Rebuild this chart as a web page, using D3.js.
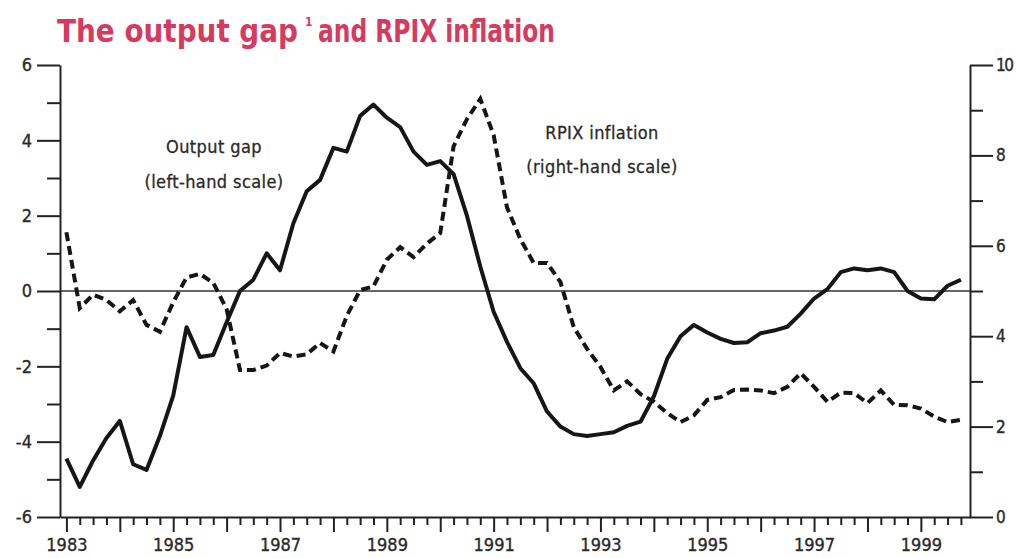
<!DOCTYPE html>
<html>
<head>
<meta charset="utf-8">
<script src="https://cdn.jsdelivr.net/npm/d3@7"></script>
<style>
  body { margin: 0; background: #fff; }
  svg { display: block; }
  .axis text { font-family: "DejaVu Sans Condensed", "DejaVu Sans", sans-serif; font-size: 18px; fill: #2a2a2a; stroke: #2a2a2a; stroke-width: 0.35px; }
  .axis.right text { font-size: 17px; letter-spacing: -1.5px; }
  .axis line, .axis path { stroke: #222; stroke-width: 2px; }
  .note { font-family: "DejaVu Sans Condensed", "DejaVu Sans", sans-serif; font-size: 18px; fill: #2a2a2a; stroke: #2a2a2a; stroke-width: 0.3px; letter-spacing: 0.4px; }
  .title { font-family: "Liberation Sans Narrow", "DejaVu Sans Condensed", sans-serif; font-weight: bold; fill: #d63a5e; }
</style>
</head>
<body>
<svg width="1016" height="558"></svg>
<script>
// quarterly observations, 1983 Q1 .. 1999 Q4
const startYear = 1983;
const outputGap = [
  -4.45, -5.2, -4.5, -3.9, -3.45, -4.6, -4.75, -3.85,
  -2.78, -0.96, -1.75, -1.7, -0.83, 0.0, 0.3, 1.0,
  0.55, 1.8, 2.65, 2.95, 3.8, 3.7, 4.65, 4.95,
  4.6, 4.35, 3.7, 3.35, 3.45, 3.1, 2.0, 0.65,
  -0.55, -1.35, -2.05, -2.45, -3.2, -3.6, -3.8, -3.85,
  -3.8, -3.75, -3.58, -3.47, -2.8, -1.8, -1.2, -0.9,
  -1.1, -1.27, -1.38, -1.36, -1.12, -1.05, -0.95, -0.6,
  -0.2, 0.05, 0.5, 0.6, 0.55, 0.6, 0.5, 0.0,
  -0.2, -0.22, 0.14, 0.3
];
const rpix = [
  6.3, 4.62, 4.92, 4.8, 4.55, 4.8, 4.25, 4.1,
  4.75, 5.3, 5.38, 5.18, 4.6, 3.25, 3.25, 3.35,
  3.63, 3.55, 3.6, 3.85, 3.66, 4.45, 5.02, 5.1,
  5.69, 5.97, 5.75, 6.05, 6.28, 8.2, 8.8, 9.25,
  8.45, 6.85, 6.15, 5.62, 5.62, 5.2, 4.2, 3.72,
  3.32, 2.8, 3.0, 2.72, 2.55, 2.3, 2.1, 2.25,
  2.59, 2.65, 2.81, 2.82, 2.8, 2.74, 2.88, 3.18,
  2.88, 2.55, 2.75, 2.74, 2.52, 2.8, 2.48, 2.47,
  2.4, 2.22, 2.1, 2.15
];
const leftTicks = [-6, -4, -2, 0, 2, 4, 6];
const leftMinor = [-5, -3, -1, 1, 3, 5];
const rightTicks = [0, 2, 4, 6, 8, 10];
const rightMinor = [1, 3, 5, 7, 9];
const yearTicks = [1983, 1984, 1985, 1986, 1987, 1988, 1989, 1990, 1991,
  1992, 1993, 1994, 1995, 1996, 1997, 1998, 1999];
const yearLabels = [1983, 1985, 1987, 1989, 1991, 1993, 1995, 1997, 1999];

const svg = d3.select("svg");
const x = d3.scaleLinear().domain([1982.88, 1999.92]).range([60, 970]);
const yL = d3.scaleLinear().domain([-6, 6]).range([517, 65]);
const yR = d3.scaleLinear().domain([0, 10]).range([517, 65]);

const quarter = (i) => startYear + i * 0.25;
const plain = (d) => String(d); // hyphen minus, like the original

// title (split so the footnote mark sits on its own)
svg.append("text").attr("class", "title")
  .attr("x", 57).attr("y", 42).attr("font-size", 32)
  .attr("textLength", 241).attr("lengthAdjust", "spacingAndGlyphs")
  .text("The output gap");
svg.append("text").attr("class", "title")
  .attr("x", 305).attr("y", 26).attr("font-size", 12)
  .text("1");
svg.append("text").attr("class", "title")
  .attr("x", 318).attr("y", 42).attr("font-size", 32)
  .attr("textLength", 237).attr("lengthAdjust", "spacingAndGlyphs")
  .text("and RPIX inflation");

// zero line
svg.append("line")
  .attr("x1", 60).attr("x2", 970)
  .attr("y1", yL(0)).attr("y2", yL(0))
  .attr("stroke", "#333").attr("stroke-width", 1.6);

// left axis
svg.append("g").attr("class", "axis").attr("transform", "translate(60,0)")
  .call(d3.axisLeft(yL).tickValues(leftTicks).tickSize(23).tickSizeOuter(0).tickPadding(5).tickFormat(plain));
svg.append("g").attr("class", "axis minor").attr("transform", "translate(60,0)")
  .call(d3.axisLeft(yL).tickValues(leftMinor).tickSize(13).tickFormat(""))
  .select(".domain").remove();

// right axis
svg.append("g").attr("class", "axis right").attr("transform", "translate(970,0)")
  .call(d3.axisRight(yR).tickValues(rightTicks).tickSize(23).tickSizeOuter(0).tickPadding(3).tickFormat(plain));
svg.append("g").attr("class", "axis minor").attr("transform", "translate(970,0)")
  .call(d3.axisRight(yR).tickValues(rightMinor).tickSize(13).tickFormat(""))
  .select(".domain").remove();

// bottom axis
const quarterTicks = d3.range(0, 68).map(quarter).filter((q) => q % 1 !== 0);
svg.append("g").attr("class", "axis").attr("transform", "translate(0,517)")
  .call(d3.axisBottom(x).tickValues(yearTicks).tickSize(15).tickSizeOuter(0).tickPadding(6)
    .tickFormat((d) => (yearLabels.includes(d) ? d : "")));
svg.append("g").attr("class", "axis minor").attr("transform", "translate(0,517)")
  .call(d3.axisBottom(x).tickValues(quarterTicks).tickSize(8).tickFormat(""))
  .select(".domain").remove();

// series
const gapLine = d3.line().x((d, i) => x(quarter(i))).y((d) => yL(d));
const rpixLine = d3.line().x((d, i) => x(quarter(i))).y((d) => yR(d));

svg.append("path").datum(rpix)
  .attr("d", rpixLine)
  .attr("fill", "none").attr("stroke", "#161616")
  .attr("stroke-width", 4).attr("stroke-dasharray", "9,5");

svg.append("path").datum(outputGap)
  .attr("d", gapLine)
  .attr("fill", "none").attr("stroke", "#161616")
  .attr("stroke-width", 4).attr("stroke-linejoin", "round");

// annotations
const notes = [
  { x: 214, y: 153, t: "Output gap" },
  { x: 214, y: 188, t: "(left-hand scale)" },
  { x: 602, y: 139, t: "RPIX inflation" },
  { x: 602, y: 173, t: "(right-hand scale)" }
];
svg.selectAll("text.note").data(notes).enter().append("text")
  .attr("class", "note")
  .attr("x", (d) => d.x).attr("y", (d) => d.y)
  .attr("text-anchor", "middle")
  .text((d) => d.t);
</script>
</body>
</html>
